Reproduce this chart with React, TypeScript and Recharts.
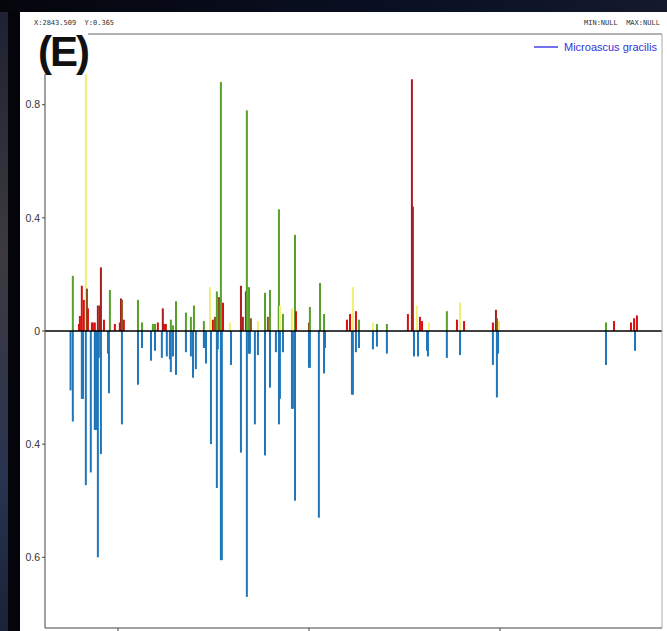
import { ComposedChart, Bar, Cell, XAxis, YAxis, ReferenceLine } from 'recharts';

// peaks above the axis: position, height, group
const upX = [
  764, 796, 801, 811, 822, 832, 838, 843, 864, 869, 879, 895, 906, 911, 927, 958, 984, 1010, 1016, 1021, 1031,
  1105, 1126, 1183, 1194, 1209, 1235, 1241, 1251, 1277, 1288, 1304, 1356, 1382, 1398, 1450, 1482, 1497, 1508,
  1518, 1529, 1539, 1550, 1586, 1644, 1654, 1670, 1675, 1686, 1696, 1733, 1770, 1785, 1796, 1838, 1843, 1848,
  1864, 1911, 1927, 1932, 2000, 2005, 2058, 2079, 2199, 2215, 2230, 2246, 2262, 2335, 2356, 2408, 2518, 2539,
  2544, 2565, 2581, 2592, 2628, 2722, 2775, 2791, 2812, 2963, 2979, 2984, 2995, 3555, 3597, 3686, 3702, 3717,
];
const upVal = [
  0.195, 0.025, 0.053, 0.16, 0.11, 1.05, 0.15, 0.08, 0.03, 0.03, 0.03, 0.09, 0.09, 0.225, 0.04, 0.145, 0.025, 0.03, 0.115, 0.11, 0.04,
  0.11, 0.03, 0.025, 0.025, 0.03, 0.08, 0.025, 0.025, 0.04, 0.02, 0.105, 0.065, 0.05, 0.09, 0.035, 0.155, 0.04, 0.05,
  0.14, 0.12, 0.88, 0.1, 0.03, 0.16, 0.05, 0.14, 0.78, 0.155, 0.045, 0.035, 0.135, 0.05, 0.145, 0.09, 0.43, 0.09,
  0.06, 0.08, 0.34, 0.07, 0.03, 0.085, 0.17, 0.06, 0.04, 0.06, 0.155, 0.07, 0.04, 0.03, 0.025, 0.025, 0.06, 0.89,
  0.44, 0.09, 0.05, 0.035, 0.03, 0.07, 0.04, 0.1, 0.035, 0.03, 0.075, 0.045, 0.035, 0.03, 0.035, 0.03, 0.045, 0.055,
];
const upGrp = [
  'g', 'r', 'r', 'r', 'r', 'y', 'o', 'r', 'r', 'r', 'r', 'd', 'r', 'd', 'r', 'g', 'r', 'r', 'd', 'o', 'r',
  'g', 'g', 'g', 'g', 'r', 'd', 'r', 'r', 'g', 'g', 'g', 'g', 'g', 'g', 'g', 'y', 'r', 'o',
  'g', 'o', 'g', 'r', 'y', 'd', 'd', 'r', 'g', 'g', 'o', 'y', 'g', 'o', 'g', 'y', 'g', 'y',
  'g', 'y', 'g', 'r', 'o', 'g', 'g', 'g', 'r', 'r', 'y', 'r', 'g', 'y', 'g', 'g', 'r', 'd',
  'd', 'y', 'r', 'r', 'y', 'g', 'r', 'y', 'r', 'r', 'd', 'o', 'y', 'g', 'r', 'r', 'r', 'r',
];

// peaks below the axis
const downX = [
  752, 764, 811, 817, 832, 858, 879, 885, 890, 895, 900, 911, 948, 953, 1021, 1105, 1126, 1173, 1194, 1230,
  1256, 1272, 1277, 1288, 1304, 1356, 1382, 1393, 1408, 1450, 1456, 1461, 1487, 1518, 1523, 1539, 1544, 1592,
  1644, 1675, 1686, 1691, 1717, 1733, 1770, 1796, 1827, 1843, 1848, 1864, 1911, 1916, 1927, 2000, 2005, 2052,
  2079, 2084, 2225, 2230, 2246, 2262, 2335, 2356, 2408, 2550, 2571, 2618, 2623, 2722, 2791, 2963, 2984, 2990,
  3555, 3707,
];
const downVal = [
  -0.21, -0.32, -0.24, -0.24, -0.545, -0.5, -0.35, -0.35, -0.35, -0.8, -0.095, -0.435, -0.08, -0.22, -0.33, -0.19, -0.06, -0.105, -0.07, -0.095,
  -0.09, -0.1, -0.145, -0.09, -0.155, -0.075, -0.09, -0.165, -0.135, -0.06, -0.06, -0.115, -0.4, -0.555, -0.065, -0.81, -0.81, -0.12,
  -0.43, -0.94, -0.08, -0.08, -0.33, -0.085, -0.44, -0.2, -0.075, -0.33, -0.24, -0.075, -0.275, -0.275, -0.6, -0.13, -0.13, -0.66,
  -0.15, -0.06, -0.225, -0.225, -0.075, -0.06, -0.065, -0.055, -0.08, -0.09, -0.09, -0.07, -0.09, -0.095, -0.085, -0.12, -0.235, -0.08,
  -0.12, -0.07,
];

const xDomain = [618, 3848];
const yDomain = [-1.05, 1.05];
const xTicks = [1000, 2000, 3000];
const yTicks = [0.8, 0.4, 0, -0.4, -0.8];
const yTickLabels = ['0.8', '0.4', '0', '0.4', '0.6'];

const groupColors: Record<string, string> = {
  r: '#d80f0f',
  d: '#a61e1e',
  o: '#8a5418',
  g: '#56a02c',
  y: '#f2ee72',
};

const xs = Array.from(new Set([...upX, ...downX])).sort((a, b) => a - b);
const rows = xs.map((x) => {
  const i = upX.indexOf(x);
  const j = downX.indexOf(x);
  return {
    x,
    up: i >= 0 ? upVal[i] : 0,
    down: j >= 0 ? downVal[j] : 0,
    grp: i >= 0 ? upGrp[i] : 'r',
  };
});

// thin stick centred on the bar slot
const Stick = (props: any) => {
  const { x, y, width, height, fill } = props;
  if (!height || Math.abs(height) < 0.5) return null;
  const cx = x + width / 2;
  const top = Math.min(y, y + height);
  return <rect x={cx - 1} y={top} width={2} height={Math.abs(height)} fill={fill} />;
};

const tickStyle = { fontSize: 10.5, fill: '#333', fontFamily: 'Liberation Sans, Arial, sans-serif' };

export default function App() {
  return (
    <div style={{ position: 'fixed', left: 0, top: 0, width: 667, height: 631, overflow: 'hidden', background: '#04050a' }}>
      {/* photo-ish edge on the left */}
      <div style={{ position: 'absolute', left: 0, top: 0, width: 8, height: 631, background: 'linear-gradient(180deg, #1c2030 0%, #3c3a40 40%, #2a3350 75%, #1a2238 100%)' }} />
      <div style={{ position: 'absolute', left: 0, top: 0, width: 667, height: 12, background: 'linear-gradient(90deg, #05060c 0%, #0a1024 60%, #141a2c 100%)' }} />

      {/* white panel */}
      <div style={{ position: 'absolute', left: 20, top: 12, width: 647, height: 619, background: '#fff' }} />

      <div style={{ position: 'absolute', left: 0, top: 0 }}>
        <ComposedChart
          width={667}
          height={660}
          data={rows}
          stackOffset="sign"
          margin={{ top: 34, right: 5, left: 20, bottom: 2 }}
        >
          <XAxis
            dataKey="x"
            type="number"
            domain={xDomain}
            ticks={xTicks}
            tick={() => <g />}
            tickSize={5}
            axisLine={{ stroke: '#444' }}
            tickLine={{ stroke: '#444' }}
            height={30}
          />
          <YAxis
            type="number"
            domain={yDomain}
            allowDataOverflow
            ticks={yTicks}
            tickFormatter={(v: number) => yTickLabels[yTicks.indexOf(v)] ?? ''}
            tick={tickStyle}
            tickSize={3}
            axisLine={{ stroke: '#444' }}
            tickLine={{ stroke: '#444' }}
            width={25}
          />
          <Bar dataKey="up" stackId="s" barSize={2} shape={Stick} isAnimationActive={false}>
            {rows.map((r, i) => (
              <Cell key={`u-${i}`} fill={groupColors[r.grp]} />
            ))}
          </Bar>
          <Bar dataKey="down" stackId="s" barSize={2} fill="#2076b8" shape={Stick} isAnimationActive={false} />
          <ReferenceLine y={0} stroke="#000" strokeWidth={1.5} />
          {/* frame top and right */}
          <ReferenceLine y={yDomain[1]} stroke="#666" strokeWidth={1} />
          <ReferenceLine x={xDomain[1]} stroke="#aaa" strokeWidth={1} />
        </ComposedChart>
      </div>

      {/* status strip */}
      <div style={{ position: 'absolute', left: 34, top: 19, fontSize: 7, fontFamily: 'DejaVu Sans Mono, monospace', color: '#333', whiteSpace: 'pre' }}>
        X:2843.509  Y:0.365
      </div>
      <div style={{ position: 'absolute', left: 584, top: 19, fontSize: 7, fontFamily: 'DejaVu Sans Mono, monospace', color: '#333', whiteSpace: 'pre' }}>
        MIN:NULL  MAX:NULL
      </div>

      {/* panel label */}
      <div style={{ position: 'absolute', left: 38, top: 30, background: '#fff', fontSize: 42, fontWeight: 'bold', lineHeight: '44px', letterSpacing: -2, fontFamily: 'Liberation Sans Narrow, Arial Narrow, Liberation Sans, sans-serif', color: '#111' }}>
        (E)
      </div>

      {/* legend */}
      <div style={{ position: 'absolute', left: 534, top: 41, display: 'flex', alignItems: 'center', gap: 6 }}>
        <div style={{ width: 24, height: 2, background: '#7272f0' }} />
        <span style={{ fontSize: 11, color: '#3434d8', fontFamily: 'Liberation Sans Narrow, Liberation Sans, sans-serif' }}>Microascus gracilis</span>
      </div>
    </div>
  );
}
